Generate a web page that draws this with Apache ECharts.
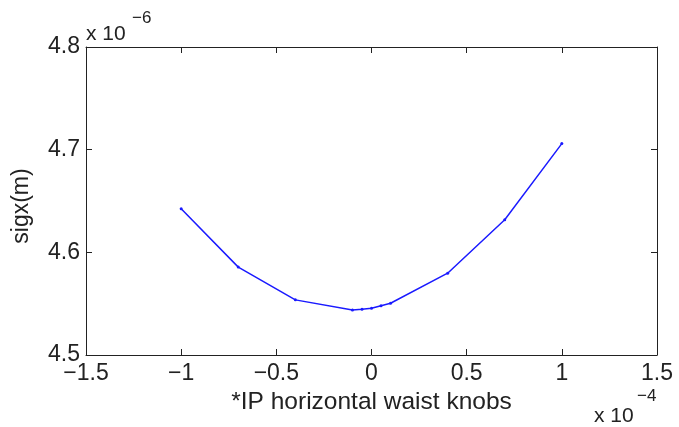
<!DOCTYPE html>
<html><head><meta charset="utf-8">
<script src="https://cdn.jsdelivr.net/npm/echarts@6/dist/echarts.min.js"></script>
<style>html,body{margin:0;padding:0;background:#fff}#c{width:679px;height:427px}</style>
</head><body><div id="c"></div>
<script>
// knob values (x 1e-4)
const knobs = [-1, -0.7, -0.4, -0.1, -0.05, 0, 0.05, 0.1, 0.4, 0.7, 1];
// sigx values (x 1e-6 m)
const sigx = [4.6424, 4.5856, 4.5537, 4.5439, 4.5446, 4.5456, 4.548, 4.5504, 4.5797, 4.6317, 4.7059];
const xTicks = [-1.5, -1, -0.5, 0, 0.5, 1, 1.5];
const yTicks = [4.5, 4.6, 4.7, 4.8];

const FONT = '"Liberation Sans",Arial,Helvetica,sans-serif';
const FS = 23;
const fmt = v => String(v).replace('-', '\u2212');
const lineC = '#222';
const txtC = '#222';

const chart = echarts.init(document.getElementById('c'), null, {renderer: 'canvas'});
const axBase = {
  axisLine: {show: true, onZero: false, lineStyle: {color: lineC, width: 1}},
  axisTick: {show: true, inside: true, length: 6, lineStyle: {color: lineC}},
  splitLine: {show: false}
};
chart.setOption({
  animation: false,
  backgroundColor: '#fff',
  grid: {left: 86, right: 22, top: 47, bottom: 72, containLabel: false},
  xAxis: [
    Object.assign({type: 'value', min: xTicks[0], max: xTicks[xTicks.length-1], interval: 0.5, position: 'bottom',
      axisLabel: {formatter: fmt, fontFamily: FONT, fontSize: FS, color: txtC, margin: 7},
      name: '*IP horizontal waist knobs', nameLocation: 'middle', nameGap: 34,
      nameTextStyle: {fontFamily: FONT, fontSize: 24.5, color: txtC}}, axBase),
    Object.assign({type: 'value', min: xTicks[0], max: xTicks[xTicks.length-1], interval: 0.5, position: 'top',
      axisLabel: {show: false}}, axBase)
  ],
  yAxis: [
    Object.assign({type: 'value', min: yTicks[0], max: yTicks[yTicks.length-1], interval: 0.1, position: 'left',
      axisLabel: {formatter: v => v.toFixed(1), fontFamily: FONT, fontSize: FS, color: txtC, margin: 6},
      name: 'sigx(m)', nameLocation: 'middle', nameGap: 53,
      nameTextStyle: {fontFamily: FONT, fontSize: FS, color: txtC, padding: [0, 10, 0, 0]}}, axBase),
    Object.assign({type: 'value', min: yTicks[0], max: yTicks[yTicks.length-1], interval: 0.1, position: 'right',
      axisLabel: {show: false}}, axBase)
  ],
  graphic: [
    {type: 'text', x: 86, y: 44.5, style: {text: 'x 10', fontFamily: FONT, fontSize: 21, fill: txtC, verticalAlign: 'bottom'}},
    {type: 'text', x: 132, y: 10, style: {text: '\u22126', fontFamily: FONT, fontSize: 17, fill: txtC, verticalAlign: 'top'}},
    {type: 'text', x: 594, y: 427, style: {text: 'x 10', fontFamily: FONT, fontSize: 21, fill: txtC, verticalAlign: 'bottom'}},
    {type: 'text', x: 637, y: 388, style: {text: '\u22124', fontFamily: FONT, fontSize: 17, fill: txtC, verticalAlign: 'top'}}
  ],
  series: [{
    type: 'line', xAxisIndex: 0, yAxisIndex: 0,
    data: knobs.map((k, i) => [k, sigx[i]]),
    symbol: 'circle', symbolSize: 3, showSymbol: true,
    itemStyle: {color: '#1a1aff'},
    lineStyle: {color: '#1a1aff', width: 1.5}
  }]
});
</script></body></html>
